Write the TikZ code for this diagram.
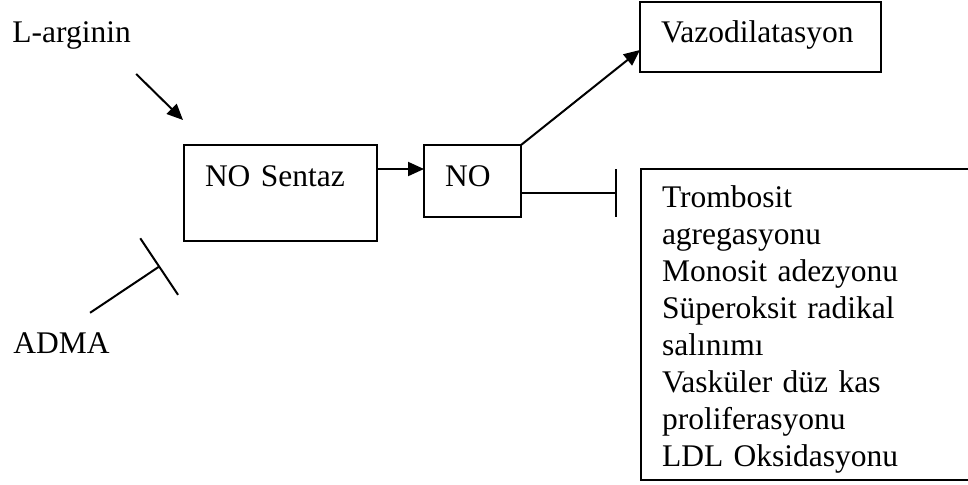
\documentclass[tikz,border=0pt]{standalone}
\usepackage{fontspec}
\setmainfont{Liberation Serif}
\usetikzlibrary{arrows.meta}

\begin{document}
\begin{tikzpicture}[x=0.5pt, y=-0.5pt]
  %tikz%
  % NO yolagi
  %tikz%
    \tikzset{
      yazi/.style={font=\fontsize{15.75}{18.5}\selectfont, inner sep=0pt},
      kutu/.style={yazi, draw, line width=1pt, outer sep=0pt, anchor=north west,
                   inner xsep=10.5pt, inner ysep=0pt, align=left},
      ok/.style={line width=1pt, -{Triangle[length=8pt, width=7pt]}},
      bast/.style={line width=1pt, -{Bar[width=#1]}}
    }
    \useasboundingbox (0,0) rectangle (968,484);

    \node[yazi, anchor=base west] (arginin) at (12,42) {L-arginin};
    \node[yazi, anchor=base west] (adma) at (13,353) {ADMA};

    \node[kutu, text width=75.5pt, text height=20.5pt, text depth=27.5pt] (sentaz) at (184,145) {NO Sentaz};
    \node[kutu, text width=27.5pt, text height=20.5pt, text depth=15.5pt] (no) at (424,145) {NO};
    \node[kutu, text width=99.5pt, text height=20pt, text depth=15pt] (vazo) at (640,2) {Vazodilatasyon};
    \node[kutu, text width=144.5pt, text height=19pt, text depth=136.5pt] (etki) at (641,169)
      {Trombosit\\ agregasyonu\\ Monosit adezyonu\\ Süperoksit radikal\\ salınımı\\
       Vasküler düz kas\\ proliferasyonu\\ LDL Oksidasyonu};

    \draw[ok] ([shift={(5,32)}]arginin.base east) -- ([shift={(-1,-25)}]sentaz.north west);
    \draw[bast=34pt] ([shift={(-20,-19)}]adma.north east) -- ([shift={(-24,25)}]sentaz.south west);
    \draw[ok] ([shift={(0,24)}]sentaz.north east) -- ([shift={(0,24)}]no.north west);
    \draw[ok] (no.north east) -- ([shift={(0,-22)}]vazo.south west);
    \draw[bast=24pt] ([shift={(0,48)}]no.north east) -- ([shift={(-24,24)}]etki.north west);

\end{tikzpicture}
\end{document}
